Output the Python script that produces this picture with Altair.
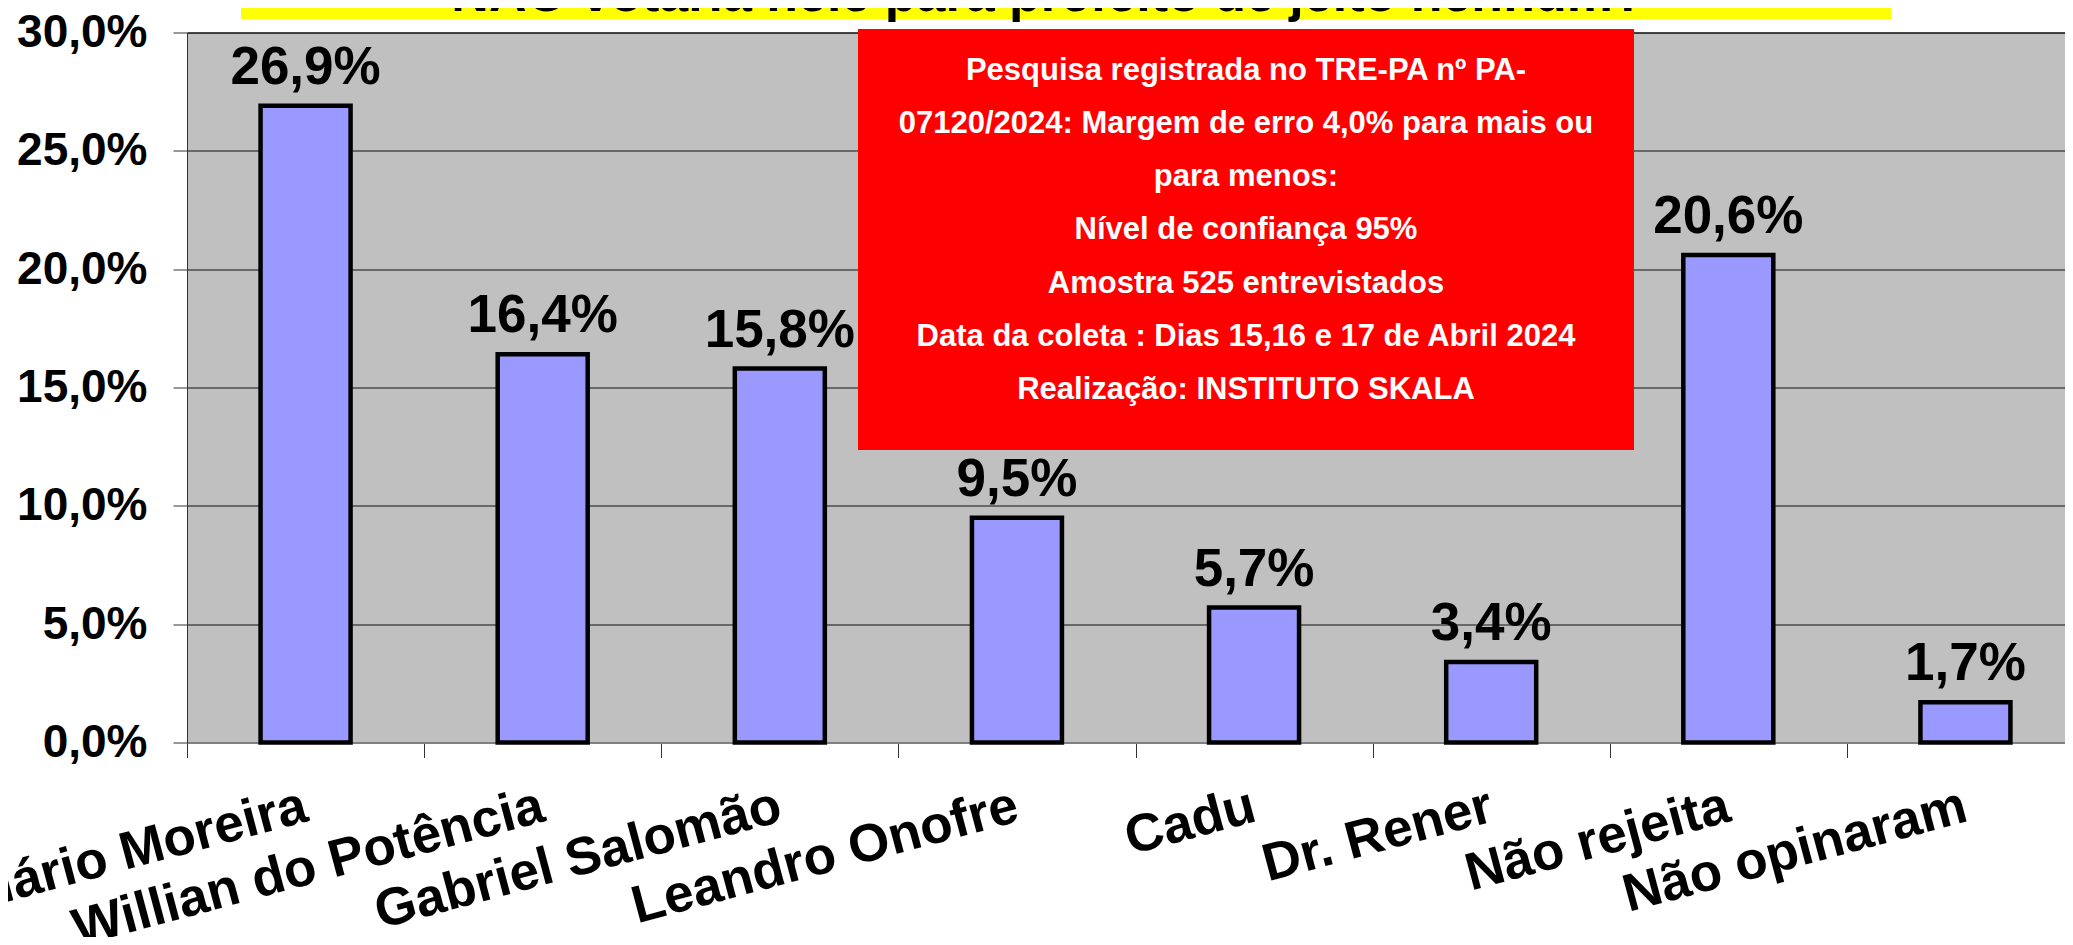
import altair as alt
import pandas as pd

# ---- data ----
categories = ["Hilário Moreira", "Willian do Potência", "Gabriel Salomão", "Leandro Onofre",
              "Cadu", "Dr. Rener", "Não rejeita", "Não opinaram"]
values = [26.9, 16.4, 15.8, 9.5, 5.7, 3.4, 20.6, 1.7]
y_ticks = [0, 5, 10, 15, 20, 25, 30]
title_text = "NÃO votaria nele para prefeito de jeito nenhum?"
box_lines = [
    "Pesquisa registrada no TRE-PA nº PA-",
    "07120/2024: Margem de erro 4,0% para mais ou",
    "para menos:",
    "Nível de confiança 95%",
    "Amostra 525 entrevistados",
    "Data da coleta : Dias 15,16 e 17 de Abril 2024",
    "Realização: INSTITUTO SKALA",
]

FONT = "Liberation Sans"
W, H = 1878, 710

df = pd.DataFrame({"cat": categories, "val": values})

x_scale = alt.Scale(paddingInner=0, paddingOuter=0, range=[0, 1897])

x_enc = alt.X(
    "cat:N", sort=categories, scale=x_scale,
    axis=alt.Axis(
        title=None, labelAngle=-15, labelAlign="right", labelBaseline="top",
        labelFontSize=53, labelFont=FONT, labelFontWeight="bold", labelColor="black",
        labelPadding=22, labelOffset=-7, labelOverlap=False, labelBound=False,
        labelFlush=False, labelLimit=0,
        tickSize=15, tickColor="#333333", tickWidth=1, tickBand="extent",
        domainColor="#808080", domainWidth=2, grid=False,
    ),
)
y_enc = alt.Y(
    "val:Q",
    scale=alt.Scale(domain=[0, 30], nice=False, zero=True),
    axis=alt.Axis(
        title=None, values=y_ticks,
        labelExpr="replace(format(datum.value, '.1f'), '.', ',') + '%'",
        labelFontSize=46, labelFont=FONT, labelFontWeight="bold", labelColor="black",
        labelPadding=26, tickSize=14, tickColor="#333333", tickWidth=1,
        grid=True, gridColor="#111111", gridWidth=1,
        domainColor="#333333", domainWidth=1,
    ),
)

base = alt.Chart(df)

bars = base.mark_bar(fill="#9999FF", stroke="black", strokeWidth=4.5, size=90).encode(x=x_enc, y=y_enc)

labels = base.transform_calculate(
    lab="replace(format(datum.val, '.1f'), '.', ',') + '%'"
).mark_text(
    baseline="alphabetic", align="center", dy=-22, fontSize=53,
    font=FONT, fontWeight="bold", color="black",
).encode(x=alt.X("cat:N", sort=categories), y="val:Q", text="lab:N")

one = pd.DataFrame({"k": [0]})

yellow = alt.Chart(one).mark_rect(color="#FFFF00").encode(
    x=alt.value(54), x2=alt.value(1704), y=alt.value(-45), y2=alt.value(-13.5)
)
title = alt.Chart(one).mark_text(
    text=title_text, fontSize=52, font=FONT, fontWeight="bold", color="black",
    align="center", baseline="alphabetic",
).encode(x=alt.value(861), y=alt.value(-21.5))

red = alt.Chart(one).mark_rect(color="#FF0000").encode(
    x=alt.value(671), x2=alt.value(1447), y=alt.value(-3.5), y2=alt.value(417.5)
)
red_text = alt.Chart(one).mark_text(
    text=box_lines, fontSize=31, font=FONT, fontWeight="bold", color="white",
    align="center", baseline="top", lineHeight=53.3,
).encode(x=alt.value(1059), y=alt.value(23))

chart = alt.layer(bars, labels, yellow, title, red, red_text).properties(
    width=W, height=H,
    autosize=alt.AutoSizeParams(type="none"),
    padding={"left": 179, "top": 24.5, "right": 0, "bottom": 194},
    background="white",
).configure_view(fill="#C0C0C0", stroke="black", strokeWidth=1)

chart.save("out.html", embed_options={"renderer": "svg", "actions": False})
